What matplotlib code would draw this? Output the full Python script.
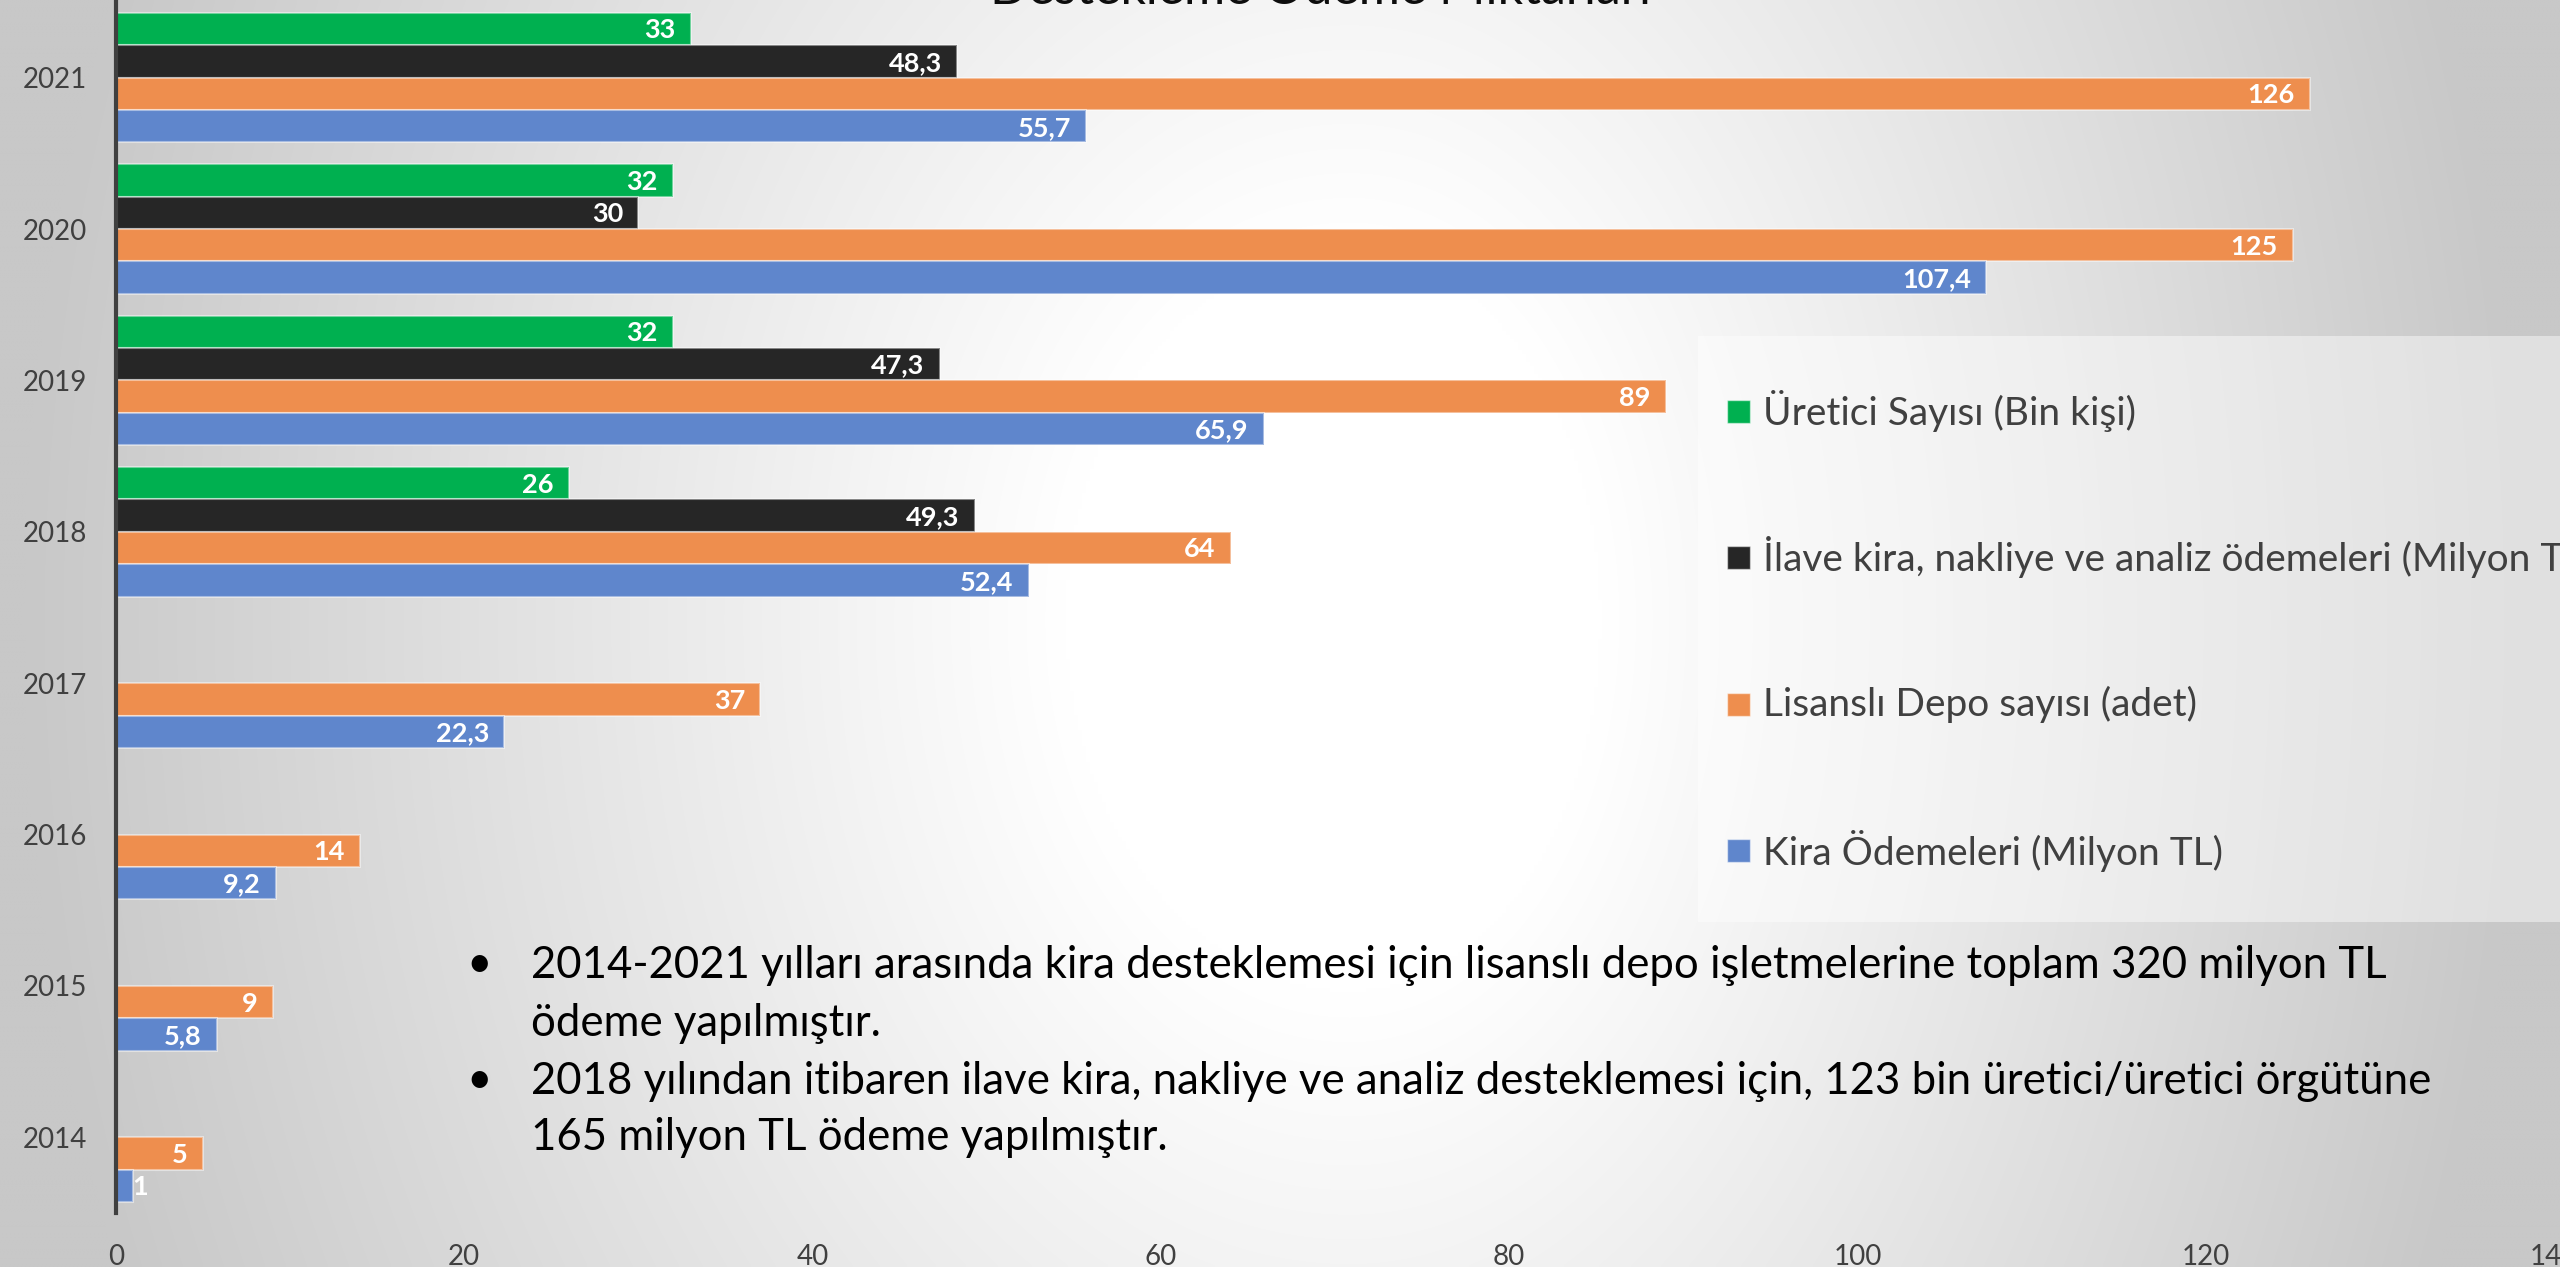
import numpy as np
import matplotlib
matplotlib.use("Agg")
from matplotlib import pyplot
from matplotlib.patches import Rectangle

W, H = 2560, 1267
DPI = 100
FONT = "Lato"

years = ["2014", "2015", "2016", "2017", "2018", "2019", "2020", "2021"]

# nan = no bar for that year
uretici = [np.nan, np.nan, np.nan, np.nan, 26, 32, 32, 33]
ilave = [np.nan, np.nan, np.nan, np.nan, 49.3, 47.3, 30, 48.3]
depo = [5, 9, 14, 37, 64, 89, 125, 126]
kira = [1, 5.8, 9.2, 22.3, 52.4, 65.9, 107.4, 55.7]

series_names = [
    "Üretici Sayısı (Bin kişi)",
    "İlave kira, nakliye ve analiz ödemeleri (Milyon TL)",
    "Lisanslı Depo sayısı (adet)",
    "Kira Ödemeleri (Milyon TL)",
]
series_colors = ["#00b050", "#262626", "#ee8e4e", "#5f86cc"]

title = "Destekleme Ödeme Miktarları"
bullets = [
    ["2014-2021 yılları arasında kira desteklemesi için lisanslı depo işletmelerine toplam 320 milyon TL",
     "ödeme yapılmıştır."],
    ["2018 yılından itibaren ilave kira, nakliye ve analiz desteklemesi için, 123 bin üretici/üretici örgütüne",
     "165 milyon TL ödeme yapılmıştır."],
]

xticks = [0, 20, 40, 60, 80, 100, 120, 140]


def px(x, y):
    """pixel (from top-left) -> figure fraction"""
    return x / W, 1 - y / H


fig = pyplot.figure(figsize=(W / DPI, H / DPI), dpi=DPI)

# background: soft radial grey gradient, white in the middle
bg = fig.add_axes([0, 0, 1, 1], zorder=-10)
gx, gy = np.meshgrid(np.linspace(0, W, 640), np.linspace(0, H, 320))
cx, cy = 1350, 620
sx = np.where(gx < cx, 1300, 1150)
r = np.sqrt(((gx - cx) / sx) ** 2 + ((gy - cy) / 1700) ** 2)
t = np.clip((r - 0.22) / 0.8, 0, 1)
g = (255 - 55 * t) / 255
bg.imshow(np.dstack([g, g, g]), extent=[0, 1, 0, 1], aspect="auto",
          interpolation="bilinear")
bg.set_axis_off()

l, top = px(116, 2)
r_, bot = px(2554, 1213)
ax = fig.add_axes([l, bot, r_ - l, top - bot])
ax.set_facecolor("none")

h = 0.214
offsets = [1.5 * h, 0.5 * h, -0.5 * h, -1.5 * h]
ypos = np.arange(len(years))
for vals, off, col in zip([uretici, ilave, depo, kira], offsets, series_colors):
    vals = np.array(vals, dtype=float)
    m = ~np.isnan(vals)
    ax.barh(ypos[m] + off, vals[m], height=h, color=col,
            edgecolor=(1, 1, 1, 0.45), linewidth=1.5)
    for y, v in zip(ypos[m] + off, vals[m]):
        lab = ("%g" % v).replace(".", ",")
        if v < 3:
            ax.annotate(lab, (v, y), xytext=(-1, -1), textcoords="offset points",
                        ha="left", va="center", color="white",
                        fontsize=19.5, fontweight="bold", family=FONT)
        else:
            ax.annotate(lab, (v, y), xytext=(-11, -1), textcoords="offset points",
                        ha="right", va="center", color="white",
                        fontsize=19.5, fontweight="bold", family=FONT)

ax.set_ylim(-0.5, len(years) - 0.5)
ax.set_xlim(0, 140)
ax.set_yticks(ypos)
ax.set_yticklabels(years)
ax.set_xticks(xticks)
ax.tick_params(axis="both", length=0, labelsize=20, labelcolor="#404040")
ax.tick_params(axis="y", pad=21)
ax.tick_params(axis="x", pad=22)
for lb in ax.get_xticklabels() + ax.get_yticklabels():
    lb.set_family(FONT)
for s in ["top", "right", "bottom"]:
    ax.spines[s].set_visible(False)
ax.spines["left"].set_color("#404040")
ax.spines["left"].set_linewidth(3)

# title, cut off by the top of the slide
tx, ty = px(1320, 4)
fig.text(tx, ty, title, ha="center", va="baseline", fontsize=36,
         family=FONT, color="#0d0d0d")

# legend box
bx, by = px(1698, 922)
fig.patches.append(Rectangle((bx, by), 1 - bx, (922 - 336) / H,
                             transform=fig.transFigure, facecolor="white",
                             alpha=0.45, edgecolor="none", zorder=1))
for i, (name, col) in enumerate(zip(series_names, series_colors)):
    yc = 411 + i * 146.5
    mx, my = px(1727, yc + 11.5)
    fig.patches.append(Rectangle((mx, my), 23 / W, 23 / H,
                                 transform=fig.transFigure, facecolor=col,
                                 edgecolor=(1, 1, 1, 0.5), linewidth=1, zorder=2))
    lx, ly = px(1763, yc)
    fig.text(lx, ly, name, ha="left", va="center", fontsize=28,
             family=FONT, color="#404040", zorder=3)

# bullet text
line_y = [965, 1024, 1081, 1138]
k = 0
for lines in bullets:
    for j, line in enumerate(lines):
        if j == 0:
            bxp, byp = px(466, line_y[k])
            fig.text(bxp, byp, "•", ha="left", va="center", fontsize=31.5,
                     family=FONT, color="black")
        lx, ly = px(531, line_y[k])
        fig.text(lx, ly, line, ha="left", va="center", fontsize=31.5,
                 family=FONT, color="black")
        k += 1

fig.savefig("out.png", dpi=DPI)
